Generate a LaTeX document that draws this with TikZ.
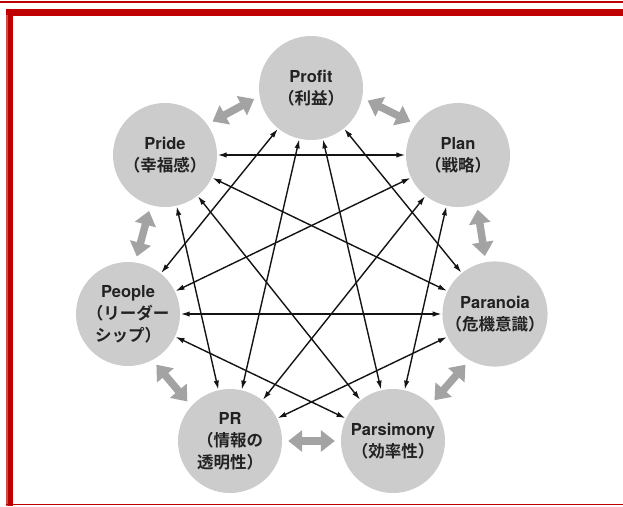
\documentclass[tikz,border=0pt]{standalone}
\usepackage{fontspec}
\setmainfont{TeX Gyre Heros}
\newfontfamily\jpfont[BoldFont={Noto Sans CJK JP Bold}]{Noto Sans CJK JP}
\usetikzlibrary{arrows.meta}
\definecolor{frame}{HTML}{C00000}
\definecolor{disc}{HTML}{CCCCCC}
\definecolor{garrow}{HTML}{A3A3A3}
\definecolor{ink}{HTML}{222222}
\newcommand{\jpt}[1]{{\jpfont\bfseries\fontsize{16.5}{22}\selectfont #1}}
\tikzset{
  disk/.style={circle, fill=disc, minimum size=104pt, inner sep=0pt, align=center,
    text=ink, font=\bfseries\fontsize{16.5}{22}\selectfont},
  link/.style={draw=black!92, line width=1.4pt,
    {Latex[length=9pt,width=5.4pt]}-{Latex[length=9pt,width=5.4pt]},
    shorten <=0.5pt, shorten >=0.5pt},
  pair/.style={draw=garrow, line width=7.5pt,
    {Triangle[length=14pt,width=21pt]}-{Triangle[length=14pt,width=21pt]},
    shorten <=6pt, shorten >=6pt}
}
\begin{document}
\begin{tikzpicture}[x=1pt,y=-1pt]
\useasboundingbox (0,0) rectangle (623,506);
\fill[white] (0,0) rectangle (623,506);
% frame
\draw[frame, line width=1.2pt] (0,2) -- (623,2);
\fill[frame] (6,9) rectangle (623,15.5);
\fill[frame] (6,9) rectangle (12.5,506);
\fill[frame!70] (6,15) rectangle (8,506);
\draw[frame, line width=1.2pt] (6,504.6) -- (623,504.6);
% nodes
\node[disk] (profit) at (311,88) {Profit\\\jpt{（利益）}};
\node[disk] (plan) at (458,155) {Plan\\\jpt{（戦略）}};
\node[disk] (paranoia) at (495,314) {Paranoia\\\jpt{（危機意識）}};
\node[disk] (parsimony) at (393,441) {Parsimony\\\jpt{（効率性）}};
\node[disk] (pr) at (230,441) {PR\\\jpt{（情報の}\\\jpt{透明性）}};
\node[disk] (people) at (128,314) {People\\\jpt{（リーダー}\\\jpt{シップ）}};
\node[disk] (pride) at (165,155) {Pride\\\jpt{（幸福感）}};
% gray neighbour arrows
\draw[pair] (pride.36) -- (profit.189);
\draw[pair] (profit.349) -- (plan.144);
\draw[pair] (plan.291) -- (paranoia.100);
\draw[pair] (paranoia.241) -- (parsimony.44);
\draw[pair] (parsimony.180) -- (pr.0);
\draw[pair] (pr.138) -- (people.298);
\draw[pair] (people.82) -- (pride.254);
% black links
\draw[link] (profit) -- (paranoia);
\draw[link] (profit) -- (people);
\draw[link] (profit) -- (parsimony);
\draw[link] (profit) -- (pr);
\draw[link] (plan) -- (pride);
\draw[link] (plan) -- (parsimony);
\draw[link] (plan) -- (pr);
\draw[link] (plan) -- (people);
\draw[link] (paranoia) -- (pr);
\draw[link] (paranoia) -- (people);
\draw[link] (paranoia) -- (pride);
\draw[link] (parsimony) -- (people);
\draw[link] (parsimony) -- (pride);
\draw[link] (pr) -- (pride);
\end{tikzpicture}
\end{document}
